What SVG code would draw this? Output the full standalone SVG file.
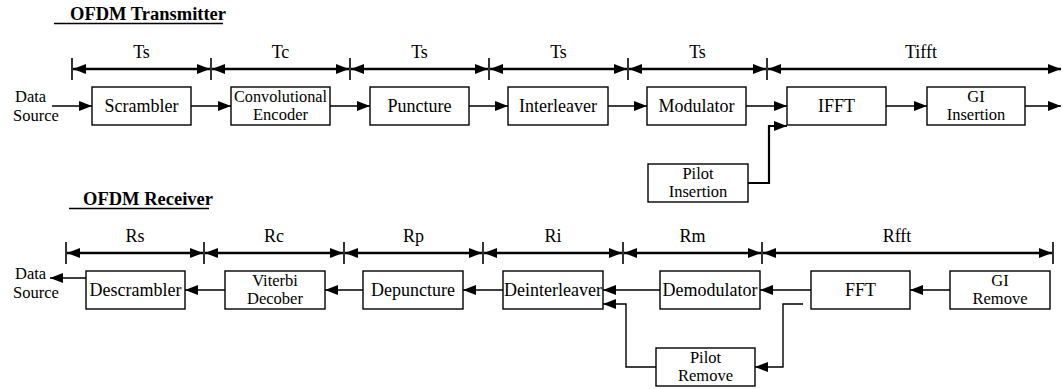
<svg xmlns="http://www.w3.org/2000/svg" width="1063" height="389" viewBox="0 0 1063 389">
<style>
text{font-family:"Liberation Serif","Times New Roman",serif;font-size:18px;fill:#000}
.t{text-anchor:middle}
.two{font-size:16.5px}
.ttl{font-weight:bold;font-size:18.5px}
.box{fill:#fff;stroke:#000;stroke-width:1.4}
.flow{fill:none;stroke:#000;stroke-width:1.4;marker-end:url(#ah)}
.thick{fill:none;stroke:#000;stroke-width:2.2;marker-end:url(#ah)}
.dim{fill:none;stroke:#000;stroke-width:2.6;marker-start:url(#dh);marker-end:url(#dh)}
.tick{stroke:#000;stroke-width:1.6}
.ul{stroke:#000;stroke-width:1.6}
</style>
<defs>
<marker id="ah" viewBox="0 0 13 10" refX="13" refY="5" markerWidth="13" markerHeight="10" markerUnits="userSpaceOnUse" orient="auto"><path d="M0,0 L13,5 L0,10 z" fill="#000"/></marker>
<marker id="dh" viewBox="0 0 13 10" refX="13" refY="5" markerWidth="13" markerHeight="10" markerUnits="userSpaceOnUse" orient="auto-start-reverse"><path d="M0,0 L13,5 L0,10 z" fill="#000"/></marker>
</defs>

<g id="titles">
<text class="ttl" x="70" y="20">OFDM Transmitter</text>
<line class="ul" x1="54" y1="23.5" x2="223" y2="23.5"/>
<text class="ttl" x="83" y="205">OFDM Receiver</text>
<line class="ul" x1="69" y1="208.5" x2="209" y2="208.5"/>
</g>

<g id="tx-dimensions">
<line class="tick" x1="72" y1="58" x2="72" y2="80"/>
<line class="tick" x1="211" y1="58" x2="211" y2="80"/>
<line class="tick" x1="350" y1="58" x2="350" y2="80"/>
<line class="tick" x1="489" y1="58" x2="489" y2="80"/>
<line class="tick" x1="628" y1="58" x2="628" y2="80"/>
<line class="tick" x1="767" y1="58" x2="767" y2="80"/>
<path class="dim" d="M73,69 H210"/>
<path class="dim" d="M212,69 H349"/>
<path class="dim" d="M351,69 H488"/>
<path class="dim" d="M490,69 H627"/>
<path class="dim" d="M629,69 H766"/>
<path class="dim" d="M768,69 H1061"/>
<text class="t" x="141.5" y="58">Ts</text>
<text class="t" x="280.5" y="58">Tc</text>
<text class="t" x="419.5" y="58">Ts</text>
<text class="t" x="558.5" y="58">Ts</text>
<text class="t" x="697.5" y="58">Ts</text>
<text class="t" x="921" y="58">Tifft</text>
</g>

<g id="rx-dimensions">
<line class="tick" x1="66" y1="242" x2="66" y2="264"/>
<line class="tick" x1="204" y1="242" x2="204" y2="264"/>
<line class="tick" x1="344" y1="242" x2="344" y2="264"/>
<line class="tick" x1="483" y1="242" x2="483" y2="264"/>
<line class="tick" x1="623" y1="242" x2="623" y2="264"/>
<line class="tick" x1="762" y1="242" x2="762" y2="264"/>
<line class="tick" x1="1053" y1="242" x2="1053" y2="264"/>
<path class="dim" d="M67,253 H203"/>
<path class="dim" d="M205,253 H343"/>
<path class="dim" d="M345,253 H482"/>
<path class="dim" d="M484,253 H622"/>
<path class="dim" d="M624,253 H761"/>
<path class="dim" d="M763,253 H1052"/>
<text class="t" x="135" y="242">Rs</text>
<text class="t" x="274" y="242">Rc</text>
<text class="t" x="413.5" y="242">Rp</text>
<text class="t" x="553" y="242">Ri</text>
<text class="t" x="692.5" y="242">Rm</text>
<text class="t" x="897" y="242">Rfft</text>
</g>

<g id="tx-source"><text class="two" x="15" y="102">Data</text><text class="two" x="13" y="120.5">Source</text></g>
<g id="scrambler"><rect class="box" x="92" y="87" width="99" height="38"/><text class="t" x="141.5" y="112">Scrambler</text></g>
<g id="conv-encoder"><rect class="box" x="231" y="87" width="99" height="38"/><text class="t two" x="280.5" y="101.5" textLength="93" lengthAdjust="spacingAndGlyphs">Convolutional</text><text class="t two" x="280.5" y="120">Encoder</text></g>
<g id="puncture"><rect class="box" x="370" y="87" width="99" height="38"/><text class="t" x="419.5" y="112">Puncture</text></g>
<g id="interleaver"><rect class="box" x="508" y="87" width="100" height="38"/><text class="t" x="558" y="112">Interleaver</text></g>
<g id="modulator"><rect class="box" x="647" y="87" width="99" height="38"/><text class="t" x="696.5" y="112">Modulator</text></g>
<g id="ifft"><rect class="box" x="787" y="87" width="99" height="38"/><text class="t" x="836.5" y="112">IFFT</text></g>
<g id="gi-insertion"><rect class="box" x="927" y="87" width="98" height="38"/><text class="t two" x="976" y="101.5">GI</text><text class="t two" x="976" y="120">Insertion</text></g>
<g id="pilot-insertion"><rect class="box" x="648" y="164" width="100" height="38"/><text class="t two" x="698" y="178.5">Pilot</text><text class="t two" x="698" y="197">Insertion</text></g>

<g id="rx-sink"><text class="two" x="15" y="279">Data</text><text class="two" x="13" y="297.5">Source</text></g>
<g id="descrambler"><rect class="box" x="86" y="271" width="99" height="38"/><text class="t" x="135.5" y="296">Descrambler</text></g>
<g id="viterbi"><rect class="box" x="225" y="271" width="100" height="38"/><text class="t two" x="275" y="285.5">Viterbi</text><text class="t two" x="275" y="304">Decober</text></g>
<g id="depuncture"><rect class="box" x="363" y="271" width="100" height="38"/><text class="t" x="413" y="296">Depuncture</text></g>
<g id="deinterleaver"><rect class="box" x="503" y="271" width="100" height="38"/><text class="t" x="553" y="296">Deinterleaver</text></g>
<g id="demodulator"><rect class="box" x="660" y="271" width="100" height="38"/><text class="t" x="710" y="296">Demodulator</text></g>
<g id="fft"><rect class="box" x="811" y="271" width="99" height="38"/><text class="t" x="860.5" y="296">FFT</text></g>
<g id="gi-remove"><rect class="box" x="950" y="271" width="100" height="38"/><text class="t two" x="1000" y="285.5">GI</text><text class="t two" x="1000" y="304">Remove</text></g>
<g id="pilot-remove"><rect class="box" x="656" y="348" width="99" height="38"/><text class="t two" x="705.5" y="362.5">Pilot</text><text class="t two" x="705.5" y="381">Remove</text></g>

<g id="connectors">
<path class="flow" d="M52,106 H92"/>
<path class="flow" d="M191,106 H231"/>
<path class="flow" d="M330,106 H370"/>
<path class="flow" d="M469,106 H508"/>
<path class="flow" d="M608,106 H647"/>
<path class="flow" d="M746,106 H787"/>
<path class="flow" d="M886,106 H927"/>
<path class="flow" d="M1025,106 H1061"/>
<path class="thick" d="M748,183 H769 V126 H787"/>
<path class="flow" d="M950,290 H910"/>
<path class="flow" d="M811,290 H760"/>
<path class="flow" d="M660,290 H603"/>
<path class="flow" d="M503,290 H463"/>
<path class="flow" d="M363,290 H325"/>
<path class="flow" d="M225,290 H185"/>
<path class="flow" d="M86,278 H50"/>
<path class="flow" d="M803,304 H783 V367 H755"/>
<path class="flow" d="M656,367 H626 V304 H603"/>
</g>
</svg>
